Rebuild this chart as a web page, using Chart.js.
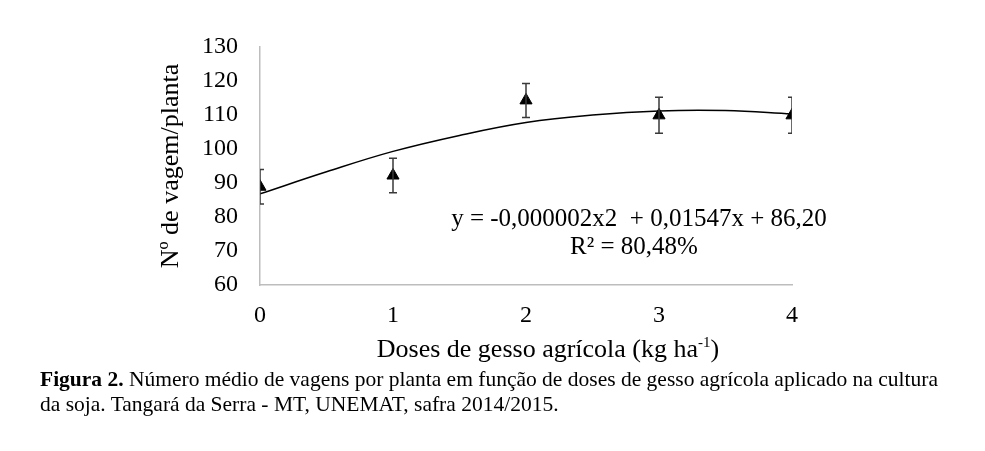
<!DOCTYPE html>
<html lang="pt">
<head>
<meta charset="utf-8">
<script src="https://cdn.jsdelivr.net/npm/chart.js@4"></script>
<style>
  html, body { margin: 0; padding: 0; background: #fff; }
  #wrap { position: relative; width: 985px; height: 451px; overflow: hidden;
          font-family: "Liberation Serif", "Times New Roman", serif; color: #000; }
  #wrap canvas { position: absolute; left: 0; top: 0; }
  .txt { position: absolute; white-space: nowrap; line-height: 1; }
  .eq { font-size: 25px; transform: translate(-50%, -50%); }
  #xtitle { font-size: 26px; left: 548px; top: 349px; transform: translate(-50%, -50%); }
  #xtitle sup { font-size: 15px; vertical-align: 10px; line-height: 0; }
  .cap { font-size: 21.5px; left: 40px; transform: translateY(-50%); }
</style>
</head>
<body>
<div id="wrap">
  <canvas id="chart" width="985" height="451"></canvas>
  <div class="txt eq" style="left:639px; top:217px">y = -0,000002x2&nbsp; + 0,01547x + 86,20</div>
  <div class="txt eq" style="left:634px; top:245px">R² = 80,48%</div>
  <div class="txt" id="xtitle">Doses de gesso agrícola (kg ha<sup>-1</sup>)</div>
  <div class="txt cap" style="top:380px"><b>Figura 2.</b> Número médio de vagens por planta em função de doses de gesso agrícola aplicado na cultura</div>
  <div class="txt cap" style="top:405px">da soja. Tangará da Serra - MT, UNEMAT, safra 2014/2015.</div>
</div>
<script>
// doses (x) e médias observadas
const doses = [0, 1, 2, 3, 4];
const vagens = [88.9, 92.2, 114.3, 109.9, 109.9];
const erros = [5.1, 5.1, 5.0, 5.3, 5.3];

// curva de tendência
const curvaX = [0, 0.5, 1, 1.5, 2, 2.5, 3, 3.5, 4];
const curvaY = [86.8, 93.3, 99.3, 104.0, 107.8, 110.0, 111.2, 111.3, 110.3];

const yTicks = [60, 70, 80, 90, 100, 110, 120, 130];

const serif = "'Liberation Serif', 'Times New Roman', serif";

// barras de erro (cortadas na área do gráfico, como no original)
const errorBars = {
    id: 'errorBars',
    afterDatasetsDraw(chart) {
        const { ctx, chartArea, scales: { x, y } } = chart;
        ctx.save();
        ctx.beginPath();
        ctx.rect(chartArea.left, chartArea.top, chartArea.right - chartArea.left, chartArea.bottom - chartArea.top);
        ctx.clip();
        ctx.strokeStyle = '#3a3a3a';
        ctx.lineWidth = 1.5;
        doses.forEach((d, i) => {
            const px = x.getPixelForValue(d);
            const top = y.getPixelForValue(vagens[i] + erros[i]);
            const bot = y.getPixelForValue(vagens[i] - erros[i]);
            ctx.beginPath();
            ctx.moveTo(px, top); ctx.lineTo(px, bot);
            ctx.moveTo(px - 4, top); ctx.lineTo(px + 4, top);
            ctx.moveTo(px - 4, bot); ctx.lineTo(px + 4, bot);
            ctx.stroke();
        });
        ctx.restore();
    }
};

new Chart(document.getElementById('chart'), {
    type: 'scatter',
    data: {
        datasets: [
            {
                label: 'Tendência',
                data: curvaX.map((v, i) => ({ x: v, y: curvaY[i] })),
                showLine: true,
                borderColor: '#000',
                borderWidth: 1.5,
                pointRadius: 0,
                tension: 0.4,
                order: 2
            },
            {
                label: 'Nº de vagem/planta',
                data: doses.map((v, i) => ({ x: v, y: vagens[i] })),
                pointStyle: 'triangle',
                pointRadius: 7,
                backgroundColor: '#000',
                borderColor: '#000',
                borderWidth: 1,
                order: 1
            }
        ]
    },
    options: {
        responsive: false,
        animation: false,
        events: [],
        layout: { padding: { left: 150, right: 193, top: 47, bottom: 126 } },
        plugins: { legend: { display: false }, tooltip: { enabled: false } },
        scales: {
            x: {
                type: 'linear',
                min: 0, max: 4,
                grid: { display: false, drawTicks: false },
                border: { display: true, color: '#bdbdbd', width: 1.5 },
                ticks: { stepSize: 1, color: '#000', padding: 16, font: { family: serif, size: 24 } },
                afterFit: s => { s.height = 40; }
            },
            y: {
                min: 60, max: 130,
                grid: { display: false, drawTicks: false },
                border: { display: true, color: '#bdbdbd', width: 1.5 },
                afterBuildTicks: s => { s.ticks = yTicks.map(v => ({ value: v })); },
                ticks: { color: '#000', padding: 22, font: { family: serif, size: 24 } },
                title: {
                    display: true,
                    text: 'Nº de vagem/planta',
                    color: '#000',
                    padding: { top: 6, bottom: 0 },
                    font: { family: serif, size: 26 }
                },
                afterFit: s => { s.width = 110; }
            }
        }
    },
    plugins: [errorBars]
});
</script>
</body>
</html>
